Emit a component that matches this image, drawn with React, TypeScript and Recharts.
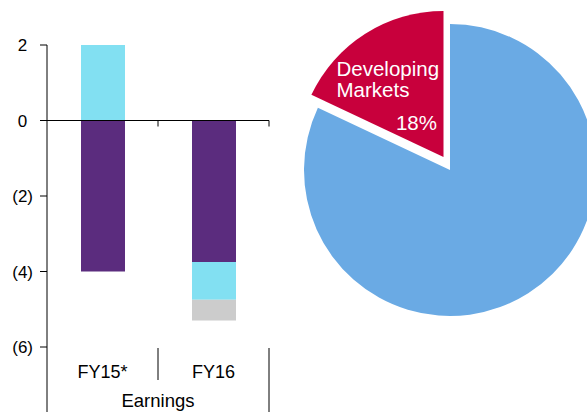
import React from 'react';
import { BarChart, Bar, XAxis, YAxis, ReferenceLine, PieChart, Pie, Cell } from 'recharts';

const categories = ['FY15*', 'FY16'];
const seriesPurple = [-4, -3.75];
const seriesCyan = [2, -1.0];
const seriesGrey = [0, -0.55];
const yTicks = [-6, -4, -2, 0, 2];
const groupLabel = 'Earnings';

const pieNames = ['Developing Markets', 'Developed Markets'];
const pieValues = [18, 82];

const barData = categories.map((c, i) => ({
  name: c,
  purple: seriesPurple[i],
  cyan: seriesCyan[i],
  grey: seriesGrey[i],
}));
const pieData = pieNames.map((n, i) => ({ name: n, value: pieValues[i] }));

const FONT = '"Liberation Sans", Arial, sans-serif';
const PURPLE = '#5B2C7E';
const CYAN = '#82E0F2';
const GREY = '#CCCCCC';
const BLUE = '#6AAAE4';
const RED = '#C8003C';

const BAR_W = 300;
const BAR_H = 412;
const MARGIN = { top: 45, right: 31, bottom: 0, left: 0 };
const YAXIS_W = 47;
const XAXIS_H = 65;
const PLOT_W = BAR_W - MARGIN.left - MARGIN.right - YAXIS_W;
const BAND = PLOT_W / categories.length;

const YTick = (props: any) => {
  const { x, y, payload } = props;
  const v = payload.value;
  const label = v < 0 ? `(${Math.abs(v)})` : `${v}`;
  const shift = v < 0 ? 0 : 5.7;
  return (
    <text x={x - shift} y={y} dy="0.36em" textAnchor="end" fontSize={17} fill="#000" fontFamily={FONT}>
      {label}
    </text>
  );
};

const XTick = (props: any) => {
  const { x, y, index, payload } = props;
  const last = index === categories.length - 1;
  const right = x + BAND / 2;
  const left = x - BAND / 2;
  return (
    <g>
      <text x={x} y={y + 31} textAnchor="middle" fontSize={18} fill="#000" fontFamily={FONT}>
        {payload.value}
      </text>
      <line x1={right} y1={y + 1} x2={right} y2={last ? BAR_H : y + 33} stroke="#000" strokeWidth={1} />
      {index === 0 && <line x1={left} y1={y} x2={left} y2={BAR_H} stroke="#000" strokeWidth={1} />}
    </g>
  );
};

const ZeroLine = (props: any) => {
  const { x1, y1, x2, y2 } = props;
  const ticks = categories.map((_, i) => x1 + (x2 - x1) * (i + 1) / categories.length);
  return (
    <g>
      <line x1={x1 - 7} y1={y1} x2={x2} y2={y2} stroke="#000" strokeWidth={1.2} />
      {ticks.map((tx, i) => (
        <line key={i} x1={tx} y1={y1} x2={tx} y2={y1 + 6} stroke="#000" strokeWidth={1} />
      ))}
    </g>
  );
};

// Pie geometry
const PIE_LEFT = 300;
const PIE_W = 287;
const PIE_CX = 150;
const PIE_CY = 170;
const PIE_R = 146;
const EXPLODE_DX = -6.5;
const EXPLODE_DY = -13;

const RedLabel = (props: any) => {
  if (props.index !== 0) return null;
  const vx = PIE_CX + EXPLODE_DX;
  const vy = PIE_CY + EXPLODE_DY;
  return (
    <g fontFamily={FONT} fontSize={20.5} fill="#fff">
      <text x={vx - 107} y={vy - 81} fill="#fff">Developing</text>
      <text x={vx - 107} y={vy - 60} fill="#fff">Markets</text>
      <text x={vx - 6.5} y={vy - 27} textAnchor="end" fill="#fff">{`${pieValues[0]}%`}</text>
    </g>
  );
};

export default function App() {
  return (
    <div style={{ position: 'absolute', left: 0, top: 0, width: 587, height: 412, background: '#fff', overflow: 'hidden', fontFamily: FONT }}>
      <div style={{ position: 'absolute', left: 0, top: 0 }}>
        <BarChart width={BAR_W} height={BAR_H} data={barData} margin={MARGIN} stackOffset="sign" barSize={44}>
          <YAxis
            width={YAXIS_W}
            domain={[-6, 2]}
            ticks={yTicks}
            interval={0}
            tickSize={7}
            tickMargin={7}
            axisLine={{ stroke: '#000', strokeWidth: 1 }}
            tickLine={{ stroke: '#000' }}
            tick={<YTick />}
          />
          <XAxis
            dataKey="name"
            height={XAXIS_H}
            axisLine={false}
            tickLine={false}
            tickSize={0}
            tickMargin={0}
            interval={0}
            tick={<XTick />}
            label={{ value: groupLabel, position: 'insideBottom', offset: 5, fontSize: 18.5, fill: '#000', fontFamily: FONT }}
          />
          <Bar dataKey="purple" stackId="a" fill={PURPLE} isAnimationActive={false} />
          <Bar dataKey="cyan" stackId="a" fill={CYAN} isAnimationActive={false} />
          <Bar dataKey="grey" stackId="a" fill={GREY} isAnimationActive={false} />
          <ReferenceLine y={0} shape={<ZeroLine />} />
        </BarChart>
      </div>
      <div style={{ position: 'absolute', left: PIE_LEFT, top: 0 }}>
        <PieChart width={PIE_W} height={BAR_H} margin={{ top: 0, right: 0, bottom: 0, left: 0 }}>
          <Pie
            data={pieData}
            dataKey="value"
            nameKey="name"
            cx={PIE_CX}
            cy={PIE_CY}
            outerRadius={PIE_R}
            innerRadius={0}
            startAngle={90}
            endAngle={450}
            stroke="none"
            isAnimationActive={false}
          >
            <Cell fill="transparent" />
            <Cell fill={BLUE} />
          </Pie>
          <Pie
            data={pieData}
            dataKey="value"
            nameKey="name"
            cx={PIE_CX + EXPLODE_DX}
            cy={PIE_CY + EXPLODE_DY}
            outerRadius={PIE_R}
            innerRadius={0}
            startAngle={90}
            endAngle={450}
            stroke="none"
            isAnimationActive={false}
            label={RedLabel}
            labelLine={false}
          >
            <Cell fill={RED} />
            <Cell fill="transparent" />
          </Pie>
        </PieChart>
      </div>
    </div>
  );
}
